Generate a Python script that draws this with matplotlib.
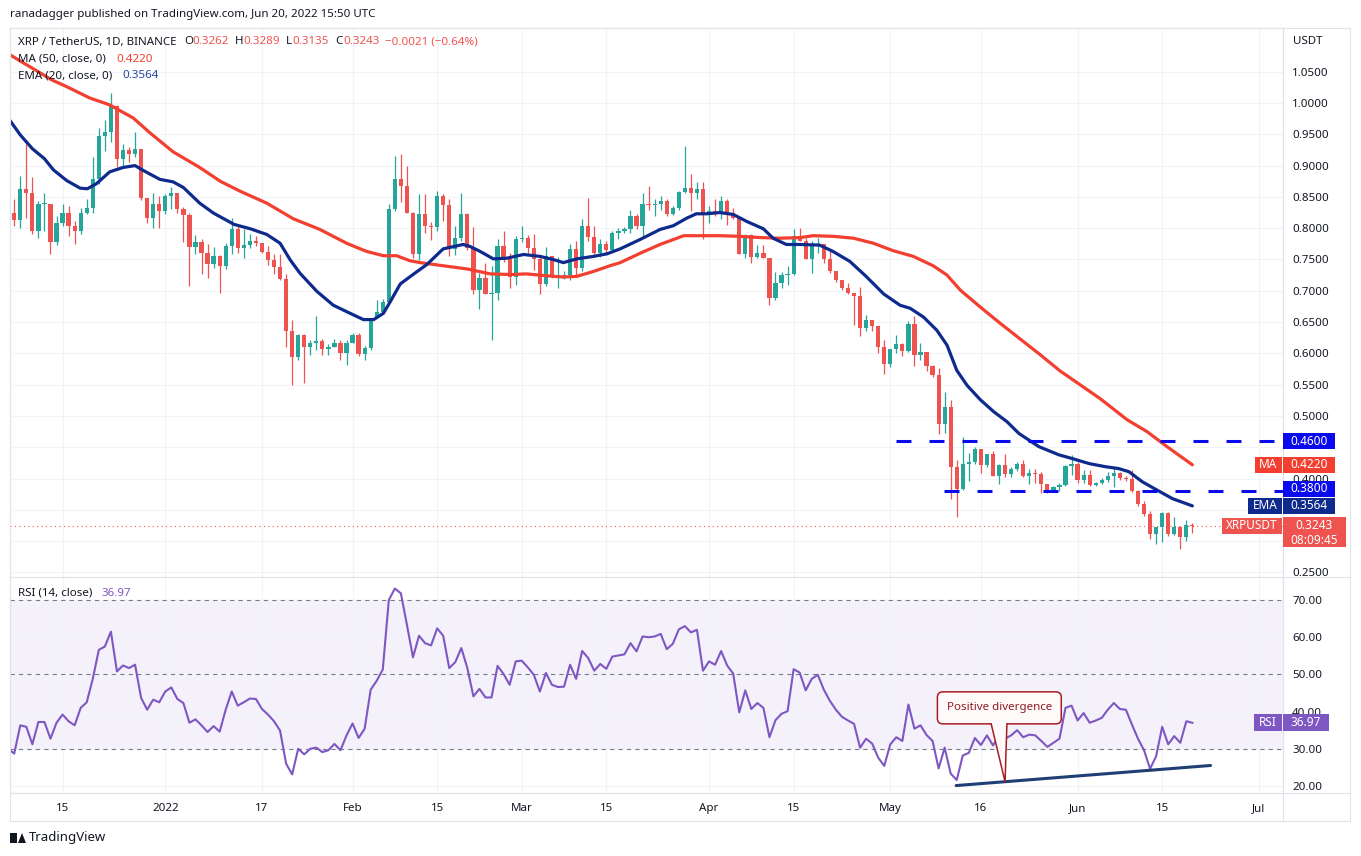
import numpy as np
import matplotlib.pyplot as plt
from matplotlib import transforms
from matplotlib.patches import Rectangle, FancyBboxPatch, Polygon
from matplotlib.lines import Line2D

plt.rcParams['font.family'] = ['Noto Sans', 'DejaVu Sans']

W, H = 1361, 856

# ---- data (day 0 = 2021-12-07, daily candles up to 2022-06-20) ----
first_open = 0.824
closes = [0.813, 0.862, 0.856, 0.796, 0.838, 0.839, 0.778, 0.808, 0.824, 0.803,
          0.795, 0.824, 0.833, 0.879, 0.947, 0.953, 0.995, 0.910, 0.925, 0.919,
          0.926, 0.849, 0.816, 0.838, 0.827, 0.851, 0.856, 0.830, 0.821, 0.770,
          0.778, 0.761, 0.743, 0.755, 0.739, 0.771, 0.799, 0.768, 0.773, 0.780,
          0.776, 0.762, 0.749, 0.738, 0.719, 0.635, 0.595, 0.629, 0.610, 0.617,
          0.619, 0.607, 0.611, 0.617, 0.600, 0.617, 0.629, 0.599, 0.609, 0.656,
          0.666, 0.682, 0.831, 0.878, 0.868, 0.825, 0.759, 0.823, 0.804, 0.802,
          0.852, 0.837, 0.767, 0.784, 0.822, 0.768, 0.702, 0.721, 0.695, 0.696,
          0.771, 0.751, 0.722, 0.782, 0.784, 0.768, 0.751, 0.711, 0.755, 0.723,
          0.724, 0.725, 0.767, 0.736, 0.804, 0.786, 0.760, 0.775, 0.765, 0.792,
          0.795, 0.799, 0.820, 0.804, 0.838, 0.837, 0.838, 0.844, 0.823, 0.832,
          0.858, 0.864, 0.856, 0.862, 0.824, 0.828, 0.823, 0.844, 0.824, 0.816,
          0.758, 0.789, 0.754, 0.761, 0.753, 0.689, 0.712, 0.725, 0.727, 0.787,
          0.780, 0.751, 0.771, 0.775, 0.750, 0.732, 0.717, 0.704, 0.697, 0.692,
          0.641, 0.653, 0.643, 0.611, 0.583, 0.607, 0.615, 0.604, 0.647, 0.597,
          0.602, 0.580, 0.565, 0.487, 0.515, 0.418, 0.384, 0.423, 0.427, 0.448,
          0.422, 0.439, 0.404, 0.422, 0.408, 0.416, 0.424, 0.404, 0.409, 0.407,
          0.392, 0.381, 0.387, 0.390, 0.420, 0.423, 0.398, 0.406, 0.390, 0.393,
          0.398, 0.404, 0.409, 0.401, 0.399, 0.380, 0.359, 0.343, 0.311, 0.322,
          0.345, 0.312, 0.322, 0.307, 0.3262, 0.3243]
highs = [0.846, 0.883, 0.935, 0.882, 0.844, 0.856, 0.839, 0.820, 0.838, 0.835,
         0.812, 0.832, 0.847, 0.914, 0.960, 0.973, 1.016, 0.997, 0.934, 0.930,
         0.954, 0.926, 0.849, 0.857, 0.852, 0.855, 0.866, 0.856, 0.834, 0.825,
         0.789, 0.783, 0.774, 0.770, 0.757, 0.776, 0.816, 0.803, 0.798, 0.790,
         0.788, 0.776, 0.771, 0.759, 0.759, 0.727, 0.654, 0.631, 0.631, 0.621,
         0.660, 0.623, 0.615, 0.623, 0.622, 0.621, 0.632, 0.633, 0.612, 0.657,
         0.686, 0.687, 0.839, 0.915, 0.918, 0.899, 0.826, 0.854, 0.854, 0.810,
         0.859, 0.854, 0.846, 0.803, 0.856, 0.825, 0.802, 0.728, 0.744, 0.739,
         0.782, 0.795, 0.761, 0.787, 0.804, 0.789, 0.790, 0.757, 0.770, 0.755,
         0.754, 0.731, 0.775, 0.779, 0.815, 0.848, 0.804, 0.783, 0.779, 0.796,
         0.801, 0.802, 0.829, 0.822, 0.856, 0.867, 0.847, 0.851, 0.847, 0.836,
         0.859, 0.931, 0.886, 0.873, 0.873, 0.835, 0.847, 0.851, 0.847, 0.832,
         0.818, 0.791, 0.791, 0.773, 0.773, 0.753, 0.730, 0.730, 0.740, 0.799,
         0.801, 0.785, 0.779, 0.784, 0.775, 0.765, 0.732, 0.718, 0.712, 0.697,
         0.706, 0.662, 0.654, 0.643, 0.622, 0.607, 0.630, 0.616, 0.651, 0.659,
         0.617, 0.602, 0.582, 0.577, 0.539, 0.525, 0.430, 0.466, 0.441, 0.451,
         0.448, 0.440, 0.444, 0.424, 0.440, 0.418, 0.426, 0.430, 0.416, 0.416,
         0.411, 0.392, 0.388, 0.393, 0.422, 0.438, 0.427, 0.414, 0.413, 0.395,
         0.401, 0.411, 0.419, 0.410, 0.404, 0.414, 0.381, 0.364, 0.349, 0.323,
         0.346, 0.346, 0.339, 0.324, 0.334, 0.3289]
lows = [0.803, 0.801, 0.817, 0.790, 0.784, 0.796, 0.759, 0.773, 0.804, 0.788,
        0.774, 0.790, 0.822, 0.825, 0.871, 0.924, 0.937, 0.897, 0.897, 0.906,
        0.914, 0.845, 0.809, 0.801, 0.801, 0.822, 0.831, 0.825, 0.778, 0.708,
        0.758, 0.727, 0.720, 0.736, 0.697, 0.735, 0.759, 0.760, 0.752, 0.769,
        0.772, 0.760, 0.741, 0.727, 0.717, 0.611, 0.550, 0.590, 0.553, 0.597,
        0.605, 0.597, 0.598, 0.610, 0.590, 0.582, 0.616, 0.596, 0.590, 0.606,
        0.662, 0.664, 0.679, 0.827, 0.842, 0.824, 0.752, 0.749, 0.793, 0.781,
        0.795, 0.811, 0.755, 0.757, 0.779, 0.765, 0.695, 0.671, 0.695, 0.622,
        0.685, 0.746, 0.704, 0.709, 0.778, 0.761, 0.734, 0.695, 0.707, 0.720,
        0.704, 0.719, 0.718, 0.722, 0.731, 0.779, 0.754, 0.754, 0.758, 0.762,
        0.783, 0.793, 0.793, 0.798, 0.788, 0.829, 0.820, 0.829, 0.819, 0.821,
        0.829, 0.857, 0.828, 0.846, 0.782, 0.809, 0.819, 0.815, 0.805, 0.814,
        0.758, 0.752, 0.745, 0.753, 0.752, 0.677, 0.686, 0.705, 0.710, 0.726,
        0.779, 0.750, 0.729, 0.760, 0.744, 0.728, 0.714, 0.702, 0.695, 0.645,
        0.628, 0.636, 0.635, 0.601, 0.567, 0.578, 0.601, 0.596, 0.602, 0.580,
        0.589, 0.572, 0.563, 0.471, 0.473, 0.367, 0.338, 0.382, 0.396, 0.424,
        0.409, 0.419, 0.404, 0.392, 0.403, 0.403, 0.412, 0.402, 0.391, 0.393,
        0.377, 0.377, 0.379, 0.380, 0.388, 0.406, 0.393, 0.393, 0.388, 0.388,
        0.392, 0.395, 0.387, 0.398, 0.396, 0.378, 0.357, 0.341, 0.304, 0.295,
        0.298, 0.309, 0.310, 0.288, 0.301, 0.3135]

# moving averages (day, value)
ma_days = [-0.7, 6.2, 8.7, 12.5, 15.8, 19.7, 22.5, 26.3, 30.7, 34.1, 37.4, 41.8,
           46.2, 50.6, 55.0, 58.3, 61.1, 63.3, 65.5, 67.2, 71.0, 74.9, 78.8, 82.1,
           84.8, 88.1, 90.9, 93.1, 95.9, 98.6, 100.3, 103.6, 106.9, 110.8, 113.5,
           116.8, 120.1, 123.5, 126.8, 130.1, 132.2, 135.6, 138.9, 142.2, 145.5,
           148.8, 152.1, 154.4, 156.6, 159.9, 163.2, 166.5, 169.8, 173.1, 176.4,
           179.7, 184.2, 187.5, 190.8, 195.0]
ma_vals = [1.077, 1.037, 1.026, 1.008, 0.997, 0.976, 0.952, 0.922, 0.897, 0.875,
           0.859, 0.840, 0.815, 0.798, 0.776, 0.763, 0.756, 0.756, 0.748, 0.745,
           0.740, 0.735, 0.727, 0.726, 0.727, 0.724, 0.722, 0.723, 0.731, 0.740,
           0.745, 0.760, 0.774, 0.788, 0.788, 0.788, 0.787, 0.785, 0.784, 0.785,
           0.788, 0.787, 0.784, 0.776, 0.764, 0.755, 0.740, 0.725, 0.701, 0.674,
           0.648, 0.623, 0.598, 0.572, 0.550, 0.528, 0.494, 0.475, 0.451, 0.4220]
ema_days = [-0.7, 1, 3, 5, 6.5, 8.7, 10.9, 12.1, 13.6, 15.8, 18, 20, 21.4, 24.1,
            26.3, 28, 30.7, 33, 34.7, 36.4, 39.1, 41.8, 44, 45.7, 47.3, 50.1, 52.8,
            55.6, 57.8, 59.5, 61.1, 62.2, 63.9, 66, 68.3, 71, 74.3, 75.4, 77.1,
            79.3, 81.5, 84.3, 87, 89.2, 90.9, 93.1, 95.9, 98.1, 100.3, 103.6, 106.9,
            109.1, 111.3, 112.9, 114.6, 116.8, 119, 121.2, 124, 125.6, 127.8, 130,
            133.3, 135.5, 138.3, 141, 143.9, 146.6, 148.3, 150.5, 152.7, 154.4, 156,
            157.7, 159.9, 162.1, 164.3, 166.3, 169.6, 172.9, 175.1, 177.9, 180.6,
            182.8, 184.5, 186.7, 188.9, 191.7, 195]
ema_vals = [0.972, 0.949, 0.927, 0.911, 0.893, 0.876, 0.864, 0.863, 0.871, 0.890,
            0.897, 0.900, 0.892, 0.878, 0.874, 0.865, 0.840, 0.824, 0.815, 0.806,
            0.799, 0.790, 0.776, 0.749, 0.728, 0.699, 0.677, 0.664, 0.654, 0.654,
            0.664, 0.682, 0.711, 0.726, 0.742, 0.767, 0.774, 0.771, 0.763, 0.751,
            0.752, 0.758, 0.755, 0.750, 0.745, 0.751, 0.755, 0.759, 0.767, 0.782,
            0.798, 0.804, 0.816, 0.823, 0.823, 0.825, 0.822, 0.811, 0.799, 0.784,
            0.774, 0.774, 0.773, 0.763, 0.747, 0.723, 0.695, 0.677, 0.672, 0.658,
            0.637, 0.613, 0.573, 0.549, 0.526, 0.507, 0.491, 0.472, 0.451, 0.438,
            0.432, 0.424, 0.419, 0.416, 0.411, 0.395, 0.383, 0.368, 0.3564]

# RSI(14) from day -1 to day 195
rsi = [30.0, 28.7, 36.3, 35.9, 31.2, 37.2, 37.2, 32.7, 37.0, 39.2, 37.4,
       36.3, 41.0, 42.5, 48.8, 56.6, 57.5, 61.5, 50.8, 52.4, 51.7,
       52.6, 43.7, 40.5, 43.2, 42.5, 45.4, 46.5, 43.4, 42.3, 37.0,
       37.9, 36.3, 34.5, 36.1, 34.6, 40.5, 45.4, 41.6, 42.5, 43.5,
       43.4, 40.7, 39.2, 37.4, 34.9, 26.0, 23.1, 30.0, 28.5, 30.0,
       30.3, 29.1, 29.6, 31.3, 29.6, 33.6, 36.8, 32.9, 35.4, 45.9,
       48.3, 51.3, 70.0, 73.1, 71.8, 63.3, 54.6, 60.4, 58.4, 57.8,
       62.4, 60.4, 51.7, 53.3, 57.1, 51.7, 44.1, 46.1, 43.8, 43.8,
       52.3, 50.1, 47.2, 53.5, 53.7, 51.9, 49.9, 45.4, 50.4, 47.2,
       46.6, 46.7, 52.6, 48.8, 56.3, 54.4, 51.0, 52.8, 51.5, 54.8,
       55.1, 55.4, 58.4, 56.2, 60.2, 60.0, 60.2, 60.9, 56.8, 58.2,
       62.1, 63.0, 61.3, 62.0, 51.0, 53.5, 52.6, 56.3, 52.4, 50.2,
       39.8, 45.7, 40.7, 42.3, 41.0, 33.1, 37.7, 39.4, 40.1, 51.4,
       50.5, 45.7, 48.8, 49.9, 45.9, 42.9, 40.5, 38.6, 37.6, 36.7,
       30.3, 32.7, 31.4, 27.6, 25.4, 31.2, 33.1, 32.1, 41.9, 35.4,
       36.3, 33.7, 32.1, 24.7, 30.3, 23.3, 21.6, 28.2, 28.9, 32.9,
       31.0, 33.6, 30.9, 33.4, 32.7, 33.6, 35.0, 33.1, 33.8, 33.6,
       32.1, 30.5, 31.6, 32.7, 41.0, 41.6, 37.6, 39.6, 37.0, 37.6,
       38.3, 40.5, 42.3, 40.7, 40.5, 36.5, 32.7, 29.6, 24.6, 28.0,
       35.9, 31.2, 33.4, 31.6, 37.4, 36.97]

support_levels = [0.46, 0.38]
support_start = [146.0, 153.9]
trend_days = [155.9, 198.0]
trend_rsi = [20.1, 25.5]

tick_days = [8, 25, 41, 56, 70, 84, 98, 115, 129, 145, 160, 176, 190, 206]
tick_labels = ['15', '2022', '17', 'Feb', '15', 'Mar', '15', 'Apr', '15', 'May',
               '16', 'Jun', '15', 'Jul']
price_ticks = [0.25, 0.30, 0.35, 0.40, 0.45, 0.50, 0.55, 0.60, 0.65, 0.70, 0.75,
               0.80, 0.85, 0.90, 0.95, 1.00, 1.05]
# levels whose axis label sits under a price tag in the original
hidden_ticks = [0.30, 0.35, 0.45]
rsi_ticks = [20, 30, 40, 50, 60, 70]

RED = '#ef5350'
GREEN = '#26a69a'
MA_C = '#f23f2f'
EMA_C = '#0e2a8c'
BLUE = '#0a0aee'
PURPLE = '#7e57c2'
TXT = '#131722'
GRID = '#f0f3fa'
BORDER = '#e0e3eb'


def fx(px):
    return px / W


def fy(py):
    return 1 - py / H


L, R, T, BP, BR = 10, 1283, 28, 577, 793
fig = plt.figure(figsize=(W / 100, H / 100), dpi=100)
ax = fig.add_axes([fx(L), fy(BP), (R - L) / W, (BP - T) / H])
ax2 = fig.add_axes([fx(L), fy(BR), (R - L) / W, (BR - BP) / H])

XLIM = (-0.7, 210.0)
PLIM = (0.2428, 1.1198)
RLIM = (18.1, 76.2)

# ---- candles ----
opens = [first_open] + closes[:-1]
days = np.arange(len(closes))
o = np.array(opens)
c = np.array(closes)
hi = np.maximum(np.array(highs), np.maximum(o, c))
lo = np.minimum(np.array(lows), np.minimum(o, c))
cols = [GREEN if cc >= oo else RED for oo, cc in zip(o, c)]
ax.vlines(days, lo, hi, colors=cols, lw=0.9, zorder=2)
body_bot = np.minimum(o, c)
body_h = np.maximum(np.abs(c - o), 0.0018)
ax.bar(days, body_h, bottom=body_bot, width=0.7, color=cols, lw=0, zorder=3)

ax.plot(ma_days, ma_vals, color=MA_C, lw=2.3, zorder=4, solid_capstyle='round')
ax.plot(ema_days, ema_vals, color=EMA_C, lw=2.3, zorder=4, solid_capstyle='round')

for lvl, st in zip(support_levels, support_start):
    ax.plot([st, XLIM[1]], [lvl, lvl], color=BLUE, lw=2.2, ls=(0, (4.9, 5.9)), zorder=5)

ax.axhline(closes[-1], color=RED, lw=0.8, ls=(0, (1, 3)), zorder=1)

ax.set_xlim(*XLIM)
ax.set_ylim(*PLIM)
ax.set_xticks(tick_days)
ax.set_xticklabels([])
ax.set_yticks(price_ticks)
ax.set_yticklabels(['' if any(abs(p - h) < 1e-9 for h in hidden_ticks) else '%.4f' % p
                    for p in price_ticks])
ax.yaxis.tick_right()
ax.tick_params(axis='y', length=0, pad=6.5, labelsize=8.3, labelcolor=TXT)
ax.tick_params(axis='x', length=0)
ax.grid(True, color=GRID, lw=0.8, zorder=0)
ax.set_axisbelow(True)

# ---- RSI ----
rsi_days = np.arange(-1, len(rsi) - 1)
ax2.axhspan(30, 70, color=PURPLE, alpha=0.08, lw=0, zorder=0)
for lv in (70, 50, 30):
    ax2.axhline(lv, color='#787b86', lw=0.8, ls=(0, (3.8, 3.8)), zorder=1)
ax2.plot(rsi_days, rsi, color=PURPLE, lw=1.5, zorder=3)
ax2.plot(trend_days, trend_rsi, color='#1f3e73', lw=2.2, zorder=4, solid_capstyle='round')

# callout
tip_d, tip_r = 164.0, 21.1
box = FancyBboxPatch((152.8, 36.7), 20.5, 8.6,
                     boxstyle='round,pad=0,rounding_size=0.9', mutation_aspect=1.62,
                     fc='#fffafa', ec='#a61d24', lw=1.1, zorder=6)
ax2.add_patch(box)
ax2.add_patch(Polygon([(161.7, 37.0), (164.3, 37.0), (tip_d, tip_r)], closed=True,
                      fc='#fffafa', ec='none', zorder=7))
ax2.plot([161.7, tip_d, 164.3], [36.7, tip_r, 36.7], color='#a61d24', lw=1.1, zorder=8)
ax2.text(163.05, 41.2, 'Positive divergence', ha='center', va='center', fontsize=8.3,
         color='#8e1b20', zorder=9)

ax2.set_xlim(*XLIM)
ax2.set_ylim(*RLIM)
ax2.set_xticks(tick_days)
ax2.set_xticklabels(tick_labels)
for lab in ax2.get_xticklabels():
    if lab.get_text() == '2022':
        lab.set_fontweight('bold')
ax2.set_yticks(rsi_ticks)
ax2.set_yticklabels(['%.2f' % r for r in rsi_ticks])
ax2.yaxis.tick_right()
ax2.tick_params(axis='y', length=0, pad=6.5, labelsize=8.3, labelcolor=TXT)
ax2.tick_params(axis='x', length=0, pad=7.0, labelsize=8.3, labelcolor=TXT)
ax2.grid(True, color=GRID, lw=0.8, zorder=0)
ax2.set_axisbelow(True)

for a in (ax, ax2):
    for s in a.spines.values():
        s.set_color(BORDER)
        s.set_linewidth(0.8)

# outer frame
for (x0, y0, x1, y1) in [(L, T, 1350, T), (L, 821, 1350, 821), (1350, T, 1350, 821),
                         (L, T, L, 821), (R, T, R, 821), (L, BR, 1350, BR),
                         (R, BP, 1350, BP)]:
    fig.add_artist(Line2D([fx(x0), fx(x1)], [fy(y0), fy(y1)], color=BORDER, lw=0.8))

# ---- header / legends ----
fig.text(fx(10), fy(15), 'ranadagger published on TradingView.com, Jun 20, 2022 15:50 UTC',
         fontsize=8.3, color=TXT, va='center')
row1 = [(18, 'XRP / TetherUS, 1D, BINANCE', TXT), (184, 'O', TXT), (192, '0.3262', RED),
        (235, 'H', TXT), (243, '0.3289', RED), (286, 'L', TXT), (292, '0.3135', RED),
        (335, 'C', TXT), (343, '0.3243', RED), (385, '\u22120.0021 (\u22120.64%)', RED)]
for x, s, col in row1:
    fig.text(fx(x), fy(42), s, fontsize=8.3, color=col, va='center')
fig.text(fx(18), fy(59), 'MA (50, close, 0)', fontsize=8.3, color=TXT, va='center')
fig.text(fx(116), fy(59), '0.4220', fontsize=8.3, color=MA_C, va='center')
fig.text(fx(18), fy(76), 'EMA (20, close, 0)', fontsize=8.3, color=TXT, va='center')
fig.text(fx(122), fy(76), '0.3564', fontsize=8.3, color='#2244aa', va='center')
fig.text(fx(18), fy(593), 'RSI (14, close)', fontsize=8.3, color=TXT, va='center')
fig.text(fx(102), fy(593), '36.97', fontsize=8.3, color=PURPLE, va='center')
fig.text(fx(1293), fy(41), 'USDT', fontsize=8.3, color=TXT, va='center')

# ---- right-hand tags ----
ppu = (BP - T) / (PLIM[1] - PLIM[0])
rpu = (BR - BP) / (RLIM[1] - RLIM[0])
bt = transforms.blended_transform_factory(fig.transFigure, ax.transData)
bt2 = transforms.blended_transform_factory(fig.transFigure, ax2.transData)


def tag(tr, unit, val, x0, x1, color, text, h=16, dy=0, tcolor='white'):
    yc = val + dy / unit
    fig.add_artist(Rectangle((fx(x0), yc - h / 2 / unit), fx(x1) - fx(x0), h / unit,
                             transform=tr, fc=color, ec='none', zorder=5))
    if text:
        fig.text((fx(x0) + fx(x1)) / 2, yc, text, transform=tr, ha='center',
                 va='center', fontsize=8.5, color=tcolor, zorder=6)


tag(bt, ppu, 0.46, 1283, 1335, BLUE, '0.4600')
tag(bt, ppu, 0.4220, 1255, 1282, MA_C, 'MA')
tag(bt, ppu, 0.4220, 1283, 1335, MA_C, '0.4220')
tag(bt, ppu, 0.38, 1283, 1335, BLUE, '0.3800', dy=2.5)
tag(bt, ppu, 0.3564, 1248, 1282, EMA_C, 'EMA')
tag(bt, ppu, 0.3564, 1283, 1335, EMA_C, '0.3564')
tag(bt, ppu, 0.3243, 1222, 1282, RED, 'XRPUSDT')
tag(bt, ppu, 0.3243 - 6.5 / ppu, 1283, 1346, RED, '', h=30)
fig.text(fx(1314), 0.3243, '0.3243', transform=bt, ha='center', va='center',
         fontsize=8.5, color='white', zorder=6)
fig.text(fx(1314), 0.3243 - 14.5 / ppu, '08:09:45', transform=bt, ha='center',
         va='center', fontsize=8.5, color='white', zorder=6)
tag(bt2, rpu, 36.97, 1254, 1282, PURPLE, 'RSI', h=17)
tag(bt2, rpu, 36.97, 1283, 1329, PURPLE, '36.97', h=17)

# ---- footer logo ----
fig.add_artist(Rectangle((fx(10), fy(843)), fx(7), 10 / H, fc=TXT, ec='none'))
fig.add_artist(Polygon([(fx(18), fy(843)), (fx(22), fy(833)), (fx(26), fy(843))],
                       closed=True, fc=TXT, ec='none', transform=fig.transFigure))
fig.text(fx(29), fy(838), 'TradingView', fontsize=9.5, fontweight='bold', color=TXT,
         va='center')

fig.savefig('out.png', dpi=100, facecolor='white')
